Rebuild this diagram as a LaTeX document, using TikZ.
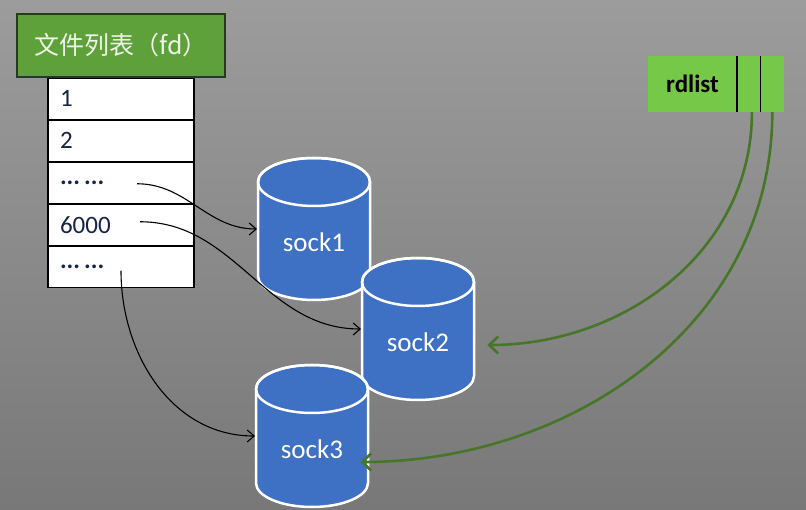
\documentclass[tikz,border=0pt]{standalone}
\usepackage{fontspec}
\setmainfont{Carlito}
\newfontfamily\cjk{Noto Sans CJK SC}
\usetikzlibrary{positioning,arrows.meta,calc}
\definecolor{bgtop}{RGB}{156,156,156}
\definecolor{bgbot}{RGB}{120,120,120}
\definecolor{titlegreen}{RGB}{94,160,58}
\definecolor{titleedge}{RGB}{38,58,28}
\definecolor{titletext}{RGB}{236,246,228}
\definecolor{listgreen}{RGB}{118,200,72}
\definecolor{sockblue}{RGB}{62,112,196}
\definecolor{arrowgreen}{RGB}{72,118,40}
\definecolor{rowtext}{RGB}{22,36,70}
\tikzstyle{title}=[draw=titleedge,line width=1.5pt,fill=titlegreen,text=titletext,minimum width=208pt,minimum height=63pt,inner sep=0pt,font=\cjk\fontsize{25}{28}\selectfont]
\tikzstyle{row}=[draw=black,line width=1.2pt,fill=white,minimum width=146pt,minimum height=40.8pt,inner sep=0pt,text width=122pt,align=left,text=rowtext,font=\fontsize{25}{28}\selectfont]
\tikzstyle{rdbox}=[fill=listgreen,minimum height=56pt,inner sep=0pt,font=\bfseries\fontsize{25}{28}\selectfont]
\tikzstyle{sockbody}=[fill=sockblue,draw=white,line width=2.5pt]
\tikzstyle{socklabel}=[text=white,inner sep=0pt,font=\fontsize{27}{30}\selectfont]
\tikzstyle{link} = [draw=black,line width=1.1pt,-{Straight Barb[length=7pt,width=12pt]}]
\tikzstyle{ready} = [draw=arrowgreen,line width=2.6pt,-{Straight Barb[length=9pt,width=17pt]}]

\begin{document}
\begin{tikzpicture}[x=1pt,y=-1pt]
  \shade[top color=bgtop,bottom color=bgbot] (0,0) rectangle (806,510);
  \useasboundingbox (0,0) rectangle (806,510);

  % fd table
  \node[title] (fd) at (121,45.5) {文件列表（fd）};
  \node[row,below=0pt of fd] (r1) {1};
  \foreach \prev / \name / \txt in {r1/r2/2, r2/r3/{\textbf{...\,...}}, r3/r4/6000, r4/r5/{\textbf{...\,...}}}
    \node[row,below=0pt of \prev] (\name) {\txt};

  % sockets
  \foreach \name / \cx / \top in {sock1/314/158, sock2/418/258, sock3/312/365}{
    \begin{scope}[shift={(\cx,\top)}]
      \path[sockbody] (-56,24) -- (-56,118)
        arc[start angle=180,end angle=360,x radius=56pt,y radius=24pt]
        -- (56,24) arc[start angle=0,end angle=180,x radius=56pt,y radius=24pt] -- cycle;
      \draw[white,line width=2.5pt] (0,24) ellipse[x radius=56pt,y radius=24pt];
      \node[socklabel] (\name) at (0,84) {\name};
      \coordinate (\name-in) at (-57,71);
    \end{scope}
  }

  % rdlist
  \node[rdbox,minimum width=89pt] (rdlist) at (692.5,84) {rdlist};
  \node[rdbox,minimum width=23pt,right=0pt of rdlist] (slot1) {};
  \node[rdbox,minimum width=23pt,right=0pt of slot1] (slot2) {};
  \draw[line width=1.5pt] (slot1.north west) -- (slot1.south west);
  \draw[line width=1.5pt] (slot2.north west) -- (slot2.south west);

  % fd -> socket
  \path[link] ([xshift=16pt,yshift=-1pt]r3.center) to[out=0,in=180] (sock1-in);
  \path[link] ([xshift=19pt,yshift=3pt]r4.center) to[out=0,in=180] (sock2-in);
  \path[link] ([yshift=-4pt]r5.center) to[out=-90,in=180] (sock3-in);

  % ready list -> socket
  \path[ready] ([xshift=3pt]slot1.south) to[out=-90,in=0] ([xshift=38pt,yshift=-3pt]sock2.east);
  \path[ready] (slot2.south) to[out=-90,in=0] ([xshift=17pt,yshift=-13pt]sock3.east);
\end{tikzpicture}
\end{document}
